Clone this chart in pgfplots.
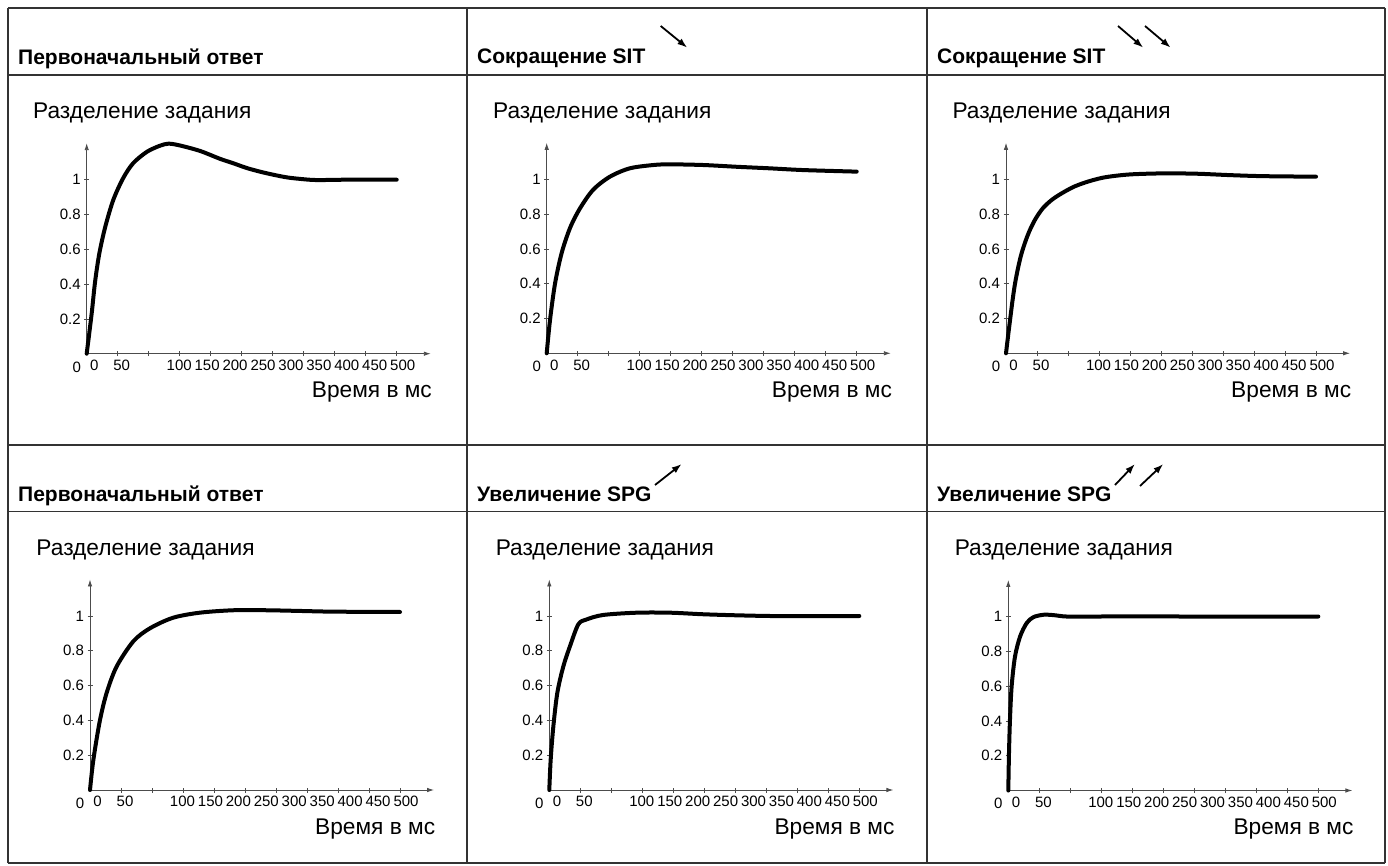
\documentclass[border=0pt]{standalone}
\usepackage{pgfplots}
\pgfplotsset{compat=1.18}
\usepackage{fontspec}
\setmainfont{Liberation Sans}
\usetikzlibrary{arrows.meta}
\newcommand\ttl{\fontsize{21}{24}\selectfont\bfseries}
\newcommand\lbl{\fontsize{22.7}{26}\selectfont}
\newcommand\tck{\fontsize{15}{17}\selectfont}
\pgfplotsset{panel/.style={
  x=0.62pt, y=174pt,
  xmin=0, xmax=555, ymin=0, ymax=1.21,
  anchor=south west,
  axis lines=left,
  axis line style={line width=0.9pt, black!70, -{Latex[length=7pt,width=4.5pt]}},
  xtick={50,100,...,500}, xticklabels={},
  ytick={0.2,0.4,0.6,0.8,1}, yticklabels={0.2,0.4,0.6,0.8,1},
  tick align=center, major tick length=5pt,
  tick style={black!70, line width=0.7pt},
  tick label style={font=\tck},
  xticklabel style={yshift=-2.7pt},
  extra x ticks={12.3,56.5,149.2,194.3,239.3,284.4,329.4,374.5,419.5,464.6,509.7},
  extra x tick labels={0,50,100,150,200,250,300,350,400,450,500},
  extra x tick style={major tick length=0pt},
  clip=false,
}}
\newcommand\decor{%
  \node[anchor=base, font=\tck, yshift=-18.4pt] at (axis cs:-16.1,0) {0};
  \node[anchor=base west, font=\lbl, inner sep=0pt, xshift=-53.7pt, yshift=235pt] at (axis cs:0,0) {Разделение задания};
  \node[anchor=base east, font=\lbl, inner sep=0pt, yshift=-44pt] at (axis cs:557,0) {Время в мс};
}
\tikzset{crv/.style={line width=4pt, black, smooth, line cap=round, line join=round}}
\begin{document}
\begin{tikzpicture}
\begin{scope}[x=1pt,y=1pt]
\path[use as bounding box] (0,0) rectangle (1388,865);
% table grid
\begin{scope}[line width=1.2pt, black!80]
\draw (8,857) -- (1385,857);
\draw (8,790) -- (1385,790);
\draw (8,420) -- (1385,420);
\draw (8,353.3) -- (1385,353.3);
\draw (8,2) -- (1385,2);
\draw (8,2) -- (8,857);
\draw (467,2) -- (467,857);
\draw (927,2) -- (927,857);
\draw (1385,2) -- (1385,857);
\end{scope}
% headers
\node[anchor=base west, font=\ttl, inner sep=0pt] at (18,800) {Первоначальный ответ};
\node[anchor=base west, font=\ttl, inner sep=0pt] at (477,801) {Сокращение SIT};
\node[anchor=base west, font=\ttl, inner sep=0pt] at (937,801) {Сокращение SIT};
\node[anchor=base west, font=\ttl, inner sep=0pt] at (18,363) {Первоначальный ответ};
\node[anchor=base west, font=\ttl, inner sep=0pt] at (477,363) {Увеличение SPG};
\node[anchor=base west, font=\ttl, inner sep=0pt] at (937,363) {Увеличение SPG};
\begin{scope}[line width=1.8pt, -{Latex[length=10pt,width=7pt]}]
\draw (660.7,839) -- (687.3,817.3);
\draw (1118,839) -- (1143.3,817.3);
\draw (1145,839) -- (1170.7,817.3);
\draw (655,380) -- (681.7,401);
\draw (1115,380) -- (1135,401);
\draw (1140,379) -- (1163.3,401);
\end{scope}
\end{scope}

\begin{axis}[panel, at={(86.7pt,511.3pt)}]
\addplot[crv] coordinates {(0,0)(8,0.23)(13.4,0.41)(20.3,0.575)(30,0.73)(43,0.885)(59,1.01)(75,1.095)(97,1.16)(118,1.195)(132,1.207)(150,1.197)(183,1.165)(215,1.12)(236,1.095)(260,1.065)(289,1.038)(320,1.015)(343,1.005)(370,0.998)(420,1.0)(500,1.0)};
\decor
\end{axis}

\begin{axis}[panel, at={(546.7pt,511.7pt)}]
\addplot[crv] coordinates {(0,0)(5.3,0.19)(13.4,0.40)(24,0.575)(37.6,0.72)(53.7,0.833)(75,0.94)(102,1.015)(134,1.063)(172,1.082)(199,1.086)(253,1.082)(306,1.072)(360,1.063)(414,1.053)(500,1.044)};
\decor
\end{axis}

\begin{axis}[panel, at={(1006pt,511.7pt)}]
\addplot[crv] coordinates {(0,0)(3,0.09)(6.5,0.19)(10,0.29)(14.5,0.40)(20,0.50)(25.3,0.577)(32,0.65)(38.7,0.71)(48,0.775)(60,0.836)(75,0.885)(92.5,0.925)(110,0.958)(124.7,0.978)(140,0.995)(162,1.013)(200,1.028)(254,1.034)(308,1.032)(361,1.024)(415,1.018)(500,1.015)};
\decor
\end{axis}

\begin{axis}[panel, at={(90pt,75pt)}]
\addplot[crv] coordinates {(0,0)(5.4,0.173)(16,0.40)(27,0.56)(43,0.71)(70,0.855)(97,0.93)(134,0.99)(177,1.019)(231,1.033)(285,1.033)(339,1.029)(392,1.025)(500,1.023)};
\decor
\end{axis}

\begin{axis}[panel, at={(549.3pt,75pt)}]
\addplot[crv] coordinates {(0,0)(2.2,0.173)(6.5,0.365)(13,0.56)(22.6,0.71)(33.4,0.827)(46.8,0.952)(60,0.98)(87,1.006)(141,1.019)(195,1.019)(248,1.01)(302,1.004)(356,1.0)(410,1.0)(500,1.0)};
\decor
\end{axis}

\begin{axis}[panel, at={(1008.3pt,74.5pt)}]
\addplot[crv] coordinates {(0,0)(1.1,0.215)(2.7,0.408)(5.4,0.6)(10.8,0.77)(19,0.885)(29.6,0.962)(40.3,0.996)(56.5,1.01)(72.6,1.008)(88.7,1.001)(104.8,0.999)(148,1.0)(300,1.0)(500,1.0)};
\decor
\end{axis}
\end{tikzpicture}
\end{document}
